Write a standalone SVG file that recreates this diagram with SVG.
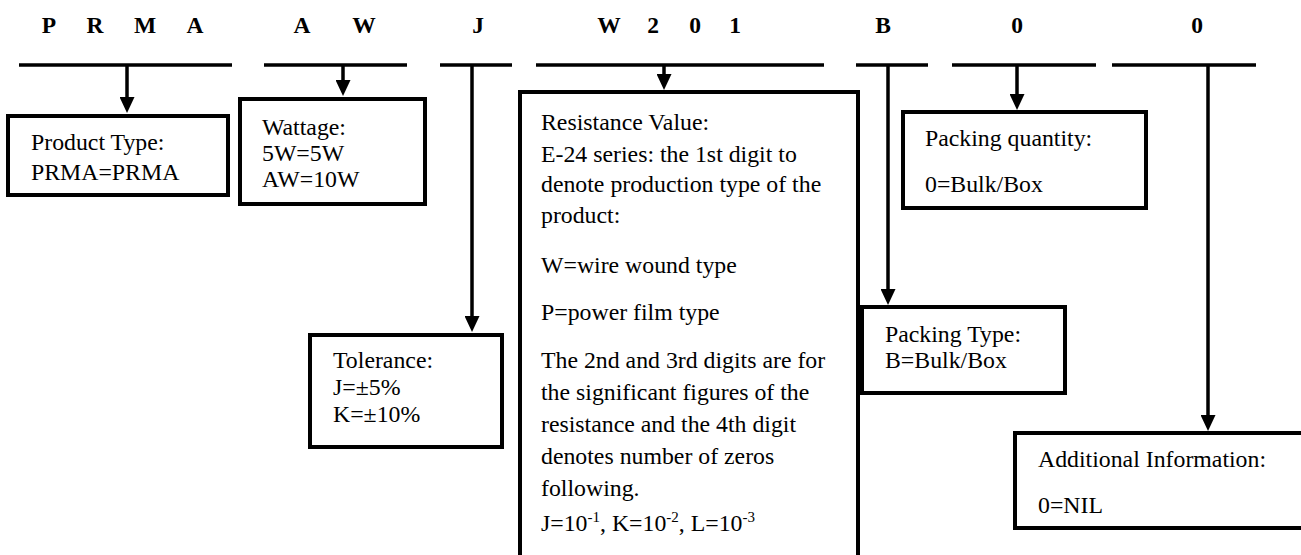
<svg xmlns="http://www.w3.org/2000/svg" width="1301" height="555" viewBox="0 0 1301 555">
<style>
  text { font-family: "Liberation Serif", "Times New Roman", serif; fill: #000; }
  .hd { font-size: 23.5px; font-weight: bold; text-anchor: middle; }
  .tx { font-size: 23.8px; }
  .sup { font-size: 15px; }
  .bar { stroke: #000; stroke-width: 3.6; fill: none; }
  .box { stroke: #000; stroke-width: 4; fill: #fff; }
  .arr { stroke: #000; stroke-width: 3.5; fill: none; marker-end: url(#ah); }
</style>
<defs>
  <marker id="ah" markerUnits="userSpaceOnUse" markerWidth="16" markerHeight="15" viewBox="0 0 16 15" refX="10" refY="7.5" orient="auto">
    <path d="M0,0 L16,7.5 L0,15 z" fill="#000"/>
  </marker>
</defs>
<rect width="1301" height="555" fill="#fff"/>

<g id="header">
  <text class="hd" x="49" y="33">P</text>
  <text class="hd" x="95" y="33">R</text>
  <text class="hd" x="145" y="33">M</text>
  <text class="hd" x="195" y="33">A</text>
  <text class="hd" x="302" y="33">A</text>
  <text class="hd" x="364" y="33">W</text>
  <text class="hd" x="478" y="33">J</text>
  <text class="hd" x="609" y="33">W</text>
  <text class="hd" x="653" y="33">2</text>
  <text class="hd" x="695" y="33">0</text>
  <text class="hd" x="735" y="33">1</text>
  <text class="hd" x="883" y="33">B</text>
  <text class="hd" x="1017" y="33">0</text>
  <text class="hd" x="1197" y="33">0</text>
</g>

<g id="bars">
  <line class="bar" x1="19" y1="65" x2="232" y2="65"/>
  <line class="bar" x1="264" y1="65" x2="407" y2="65"/>
  <line class="bar" x1="440" y1="65" x2="512" y2="65"/>
  <line class="bar" x1="536" y1="65" x2="824" y2="65"/>
  <line class="bar" x1="856" y1="65" x2="928" y2="65"/>
  <line class="bar" x1="952" y1="65" x2="1096" y2="65"/>
  <line class="bar" x1="1112" y1="65" x2="1256" y2="65"/>
</g>

<g id="connectors">
  <line class="arr" x1="127" y1="65" x2="127" y2="107"/>
  <line class="arr" x1="343" y1="65" x2="343" y2="90"/>
  <line class="arr" x1="472" y1="65" x2="472" y2="326"/>
  <line class="arr" x1="664" y1="65" x2="664" y2="84"/>
  <line class="arr" x1="888" y1="65" x2="888" y2="299"/>
  <line class="arr" x1="1017" y1="65" x2="1017" y2="104"/>
  <line class="arr" x1="1208" y1="65" x2="1208" y2="425"/>
</g>

<g id="product-type">
  <rect class="box" x="8" y="116" width="220" height="79"/>
  <text class="tx" x="31" y="150">Product Type:</text>
  <text class="tx" x="31" y="180">PRMA=PRMA</text>
</g>

<g id="wattage">
  <rect class="box" x="240" y="99" width="185" height="105"/>
  <text class="tx" x="262" y="135">Wattage:</text>
  <text class="tx" x="262" y="161">5W=5W</text>
  <text class="tx" x="262" y="187">AW=10W</text>
</g>

<g id="tolerance">
  <rect class="box" x="310" y="335" width="192" height="112"/>
  <text class="tx" x="333" y="368">Tolerance:</text>
  <text class="tx" x="333" y="395">J=±5%</text>
  <text class="tx" x="333" y="422">K=±10%</text>
</g>

<g id="resistance-value">
  <path class="box" d="M520,560 L520,92 L858,92 L858,560"/>
  <text class="tx" x="541" y="130">Resistance Value:</text>
  <text class="tx" x="541" y="162">E-24 series: the 1st digit to</text>
  <text class="tx" x="541" y="192">denote production type of the</text>
  <text class="tx" x="541" y="223">product:</text>
  <text class="tx" x="541" y="273">W=wire wound type</text>
  <text class="tx" x="541" y="320">P=power film type</text>
  <text class="tx" x="541" y="368">The 2nd and 3rd digits are for</text>
  <text class="tx" x="541" y="400">the significant figures of the</text>
  <text class="tx" x="541" y="432">resistance and the 4th digit</text>
  <text class="tx" x="541" y="464">denotes number of zeros</text>
  <text class="tx" x="541" y="496">following.</text>
  <text class="tx" x="541" y="531">J=10<tspan class="sup" dy="-9">-1</tspan><tspan dy="9">, K=10</tspan><tspan class="sup" dy="-9">-2</tspan><tspan dy="9">, L=10</tspan><tspan class="sup" dy="-9">-3</tspan></text>
</g>

<g id="packing-quantity">
  <rect class="box" x="903" y="112" width="243" height="96"/>
  <text class="tx" x="925" y="146">Packing quantity:</text>
  <text class="tx" x="925" y="192">0=Bulk/Box</text>
</g>

<g id="packing-type">
  <rect class="box" x="862" y="307" width="203" height="86"/>
  <text class="tx" x="885" y="342">Packing Type:</text>
  <text class="tx" x="885" y="368">B=Bulk/Box</text>
</g>

<g id="additional-information">
  <path class="box" d="M1310,433 L1015,433 L1015,528 L1310,528"/>
  <text class="tx" x="1038" y="467">Additional Information:</text>
  <text class="tx" x="1038" y="513">0=NIL</text>
</g>
</svg>
